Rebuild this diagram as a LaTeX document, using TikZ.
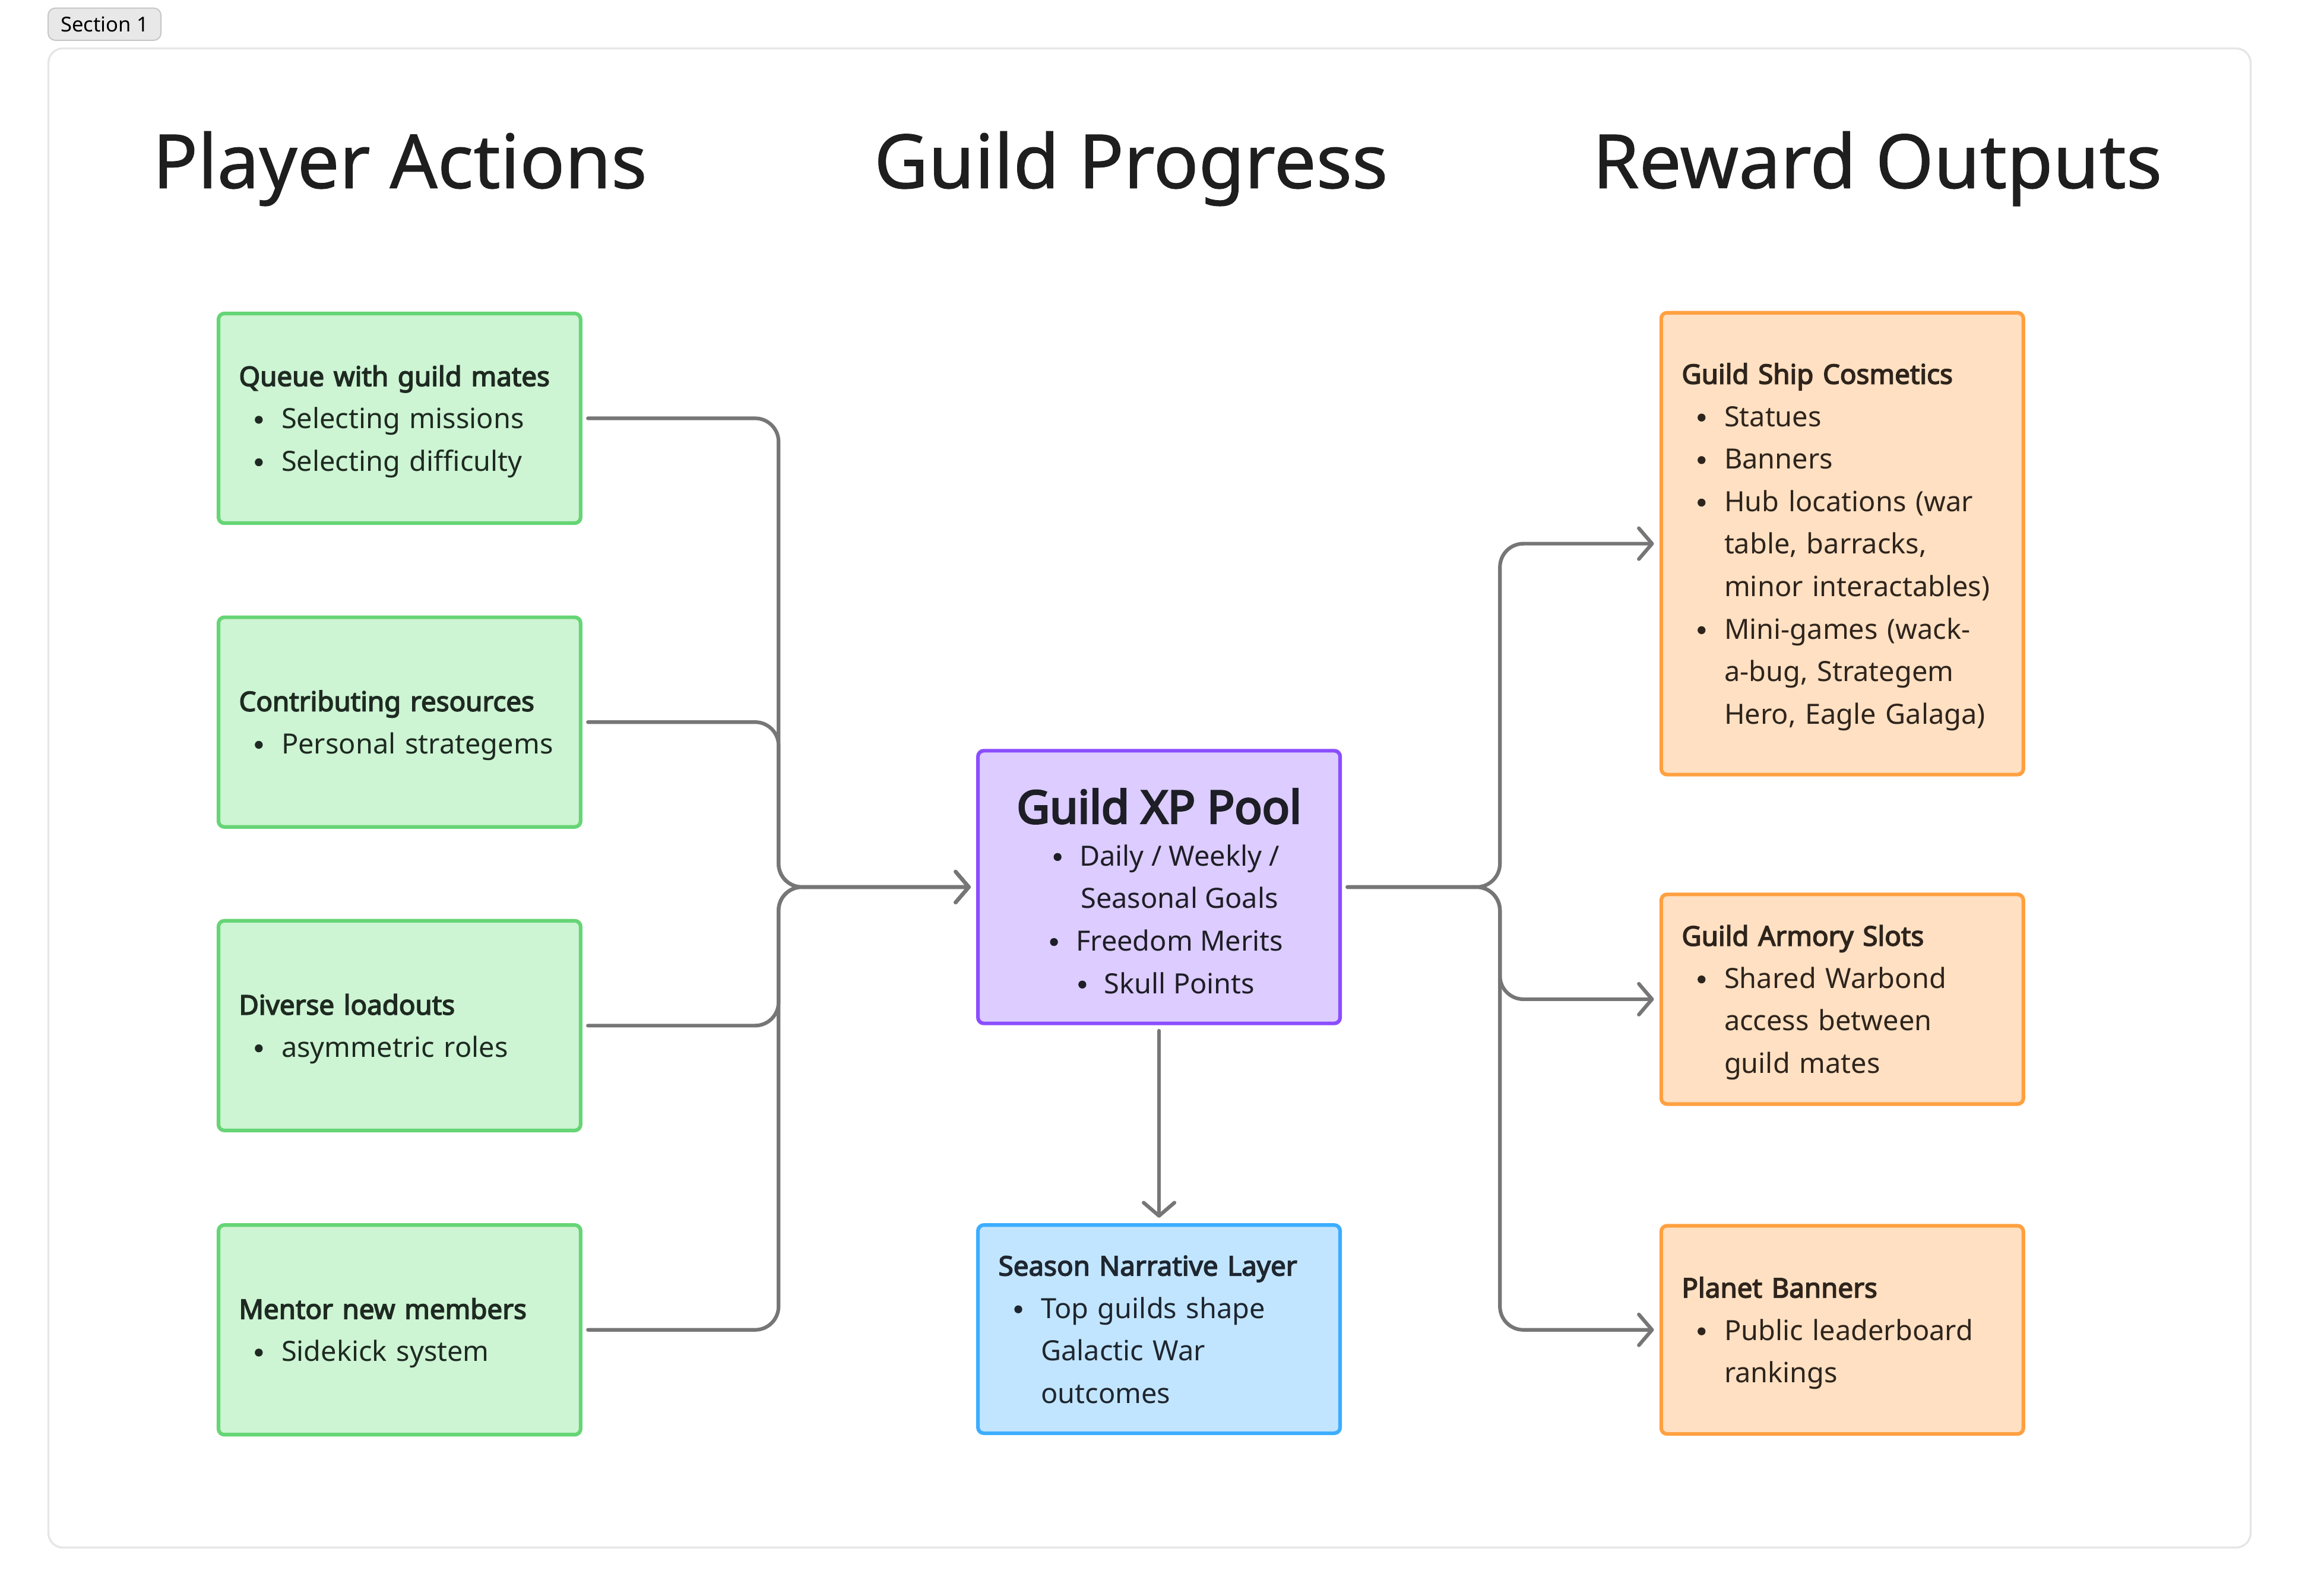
\documentclass[tikz,border=0pt]{standalone}
\usepackage{fontspec}
\setmainfont{Noto Sans}
\newfontfamily\boldface{Noto Sans}[FakeBold=3.4]
\newfontfamily\heavyface{Noto Sans}[FakeBold=4.2]
\newfontfamily\headface{Noto Sans}[FakeBold=0.8]
\usetikzlibrary{arrows.meta}
\definecolor{gfill}{HTML}{CDF4D3}
\definecolor{gline}{HTML}{66D575}
\definecolor{gtext}{HTML}{1E2A21}
\definecolor{pfill}{HTML}{DCCCFF}
\definecolor{pline}{HTML}{8B4DFF}
\definecolor{ptext}{HTML}{1E1E26}
\definecolor{bfill}{HTML}{C2E5FF}
\definecolor{bline}{HTML}{3DADFF}
\definecolor{btext}{HTML}{1E2630}
\definecolor{ofill}{HTML}{FFE0C2}
\definecolor{oline}{HTML}{FFA040}
\definecolor{otext}{HTML}{2E241C}
\definecolor{conncol}{HTML}{767676}
\definecolor{framecol}{HTML}{E6E6E6}
\definecolor{tagfill}{HTML}{E8E8E8}
\definecolor{tagline}{HTML}{C6C6C6}
\definecolor{headcol}{HTML}{1E1E1E}
\newcommand{\ftop}{\rule{0pt}{20pt}}
\newcommand{\fbot}{\rule[-6pt]{0pt}{6pt}}
\newcommand{\ttl}[1]{{\fontsize{18.5}{29}\selectfont\boldface #1}}
\newcommand{\bdot}{\tikz[baseline=0pt]\fill[x=1pt,y=1pt] (0,6) circle (2.7);}
\newcommand{\bitem}[1]{\makebox[29pt][l]{\hspace{10.8pt}\bdot}#1}
\newcommand{\bcont}[1]{\hspace*{29pt}#1}
\newcommand{\citem}[1]{\hspace*{28pt}\llap{\bdot\hspace{12.3pt}}#1}
\tikzset{
  card/.style={draw, line width=2.5pt, rounded corners=4pt, minimum width=247pt,
    inner xsep=14pt, inner ysep=0pt, text width=219pt, align=left,
    font=\fontsize{19}{29}\selectfont, outer sep=0pt},
  gcard/.style={card, fill=gfill, draw=gline, text=gtext},
  ocard/.style={card, fill=ofill, draw=oline, text=otext},
  bcard/.style={card, fill=bfill, draw=bline, text=btext},
  pcard/.style={draw, line width=2.5pt, rounded corners=4pt, minimum width=247pt,
    inner sep=0pt, align=center, font=\fontsize{19}{29}\selectfont, outer sep=0pt,
    fill=pfill, draw=pline, text=ptext},
  heading/.style={anchor=base, font=\fontsize{51}{60}\selectfont\headface, text=headcol, inner sep=0pt},
  conn/.style={draw=conncol, line width=2.5pt, rounded corners=16pt, line cap=round,
    -{Straight Barb[length=9pt,width=21pt,round]}},
}
\begin{document}
\begin{tikzpicture}[x=1pt,y=-1pt]
\useasboundingbox (0,0) rectangle (1568,1088.5);
% section frame and tag
\node[draw=framecol, line width=1.4pt, rounded corners=10pt, minimum width=1502pt,
  minimum height=1022.5pt, inner sep=0pt] (frame) at (784,544.25) {};
\node[draw=tagline, fill=tagfill, line width=0.8pt, rounded corners=5pt, minimum width=77pt,
  minimum height=22pt, inner sep=0pt, font=\fontsize{14}{16}\selectfont, text=black] (tag) at (71.3,16.5) {Section 1};
% headings
\node[heading] (h1) at (272.7,128.3) {Player Actions};
\node[heading] (h2) at (771.3,128.3) {Guild Progress};
\node[heading] (h3) at (1280.4,128.3) {Reward Outputs};
% player actions
\node[gcard, minimum height=143pt] (g1) at (272.5,285.3) {\ftop\ttl{Queue with guild mates}\\ \bitem{Selecting missions}\\ \bitem{Selecting difficulty}\fbot};
\node[gcard, minimum height=143pt] (g2) at (272.5,492.5) {\ftop\ttl{Contributing resources}\\ \bitem{Personal strategems}\fbot};
\node[gcard, minimum height=143pt] (g3) at (272.5,699.5) {\ftop\ttl{Diverse loadouts}\\ \bitem{asymmetric roles}\fbot};
\node[gcard, minimum height=143pt] (g4) at (272.5,907) {\ftop\ttl{Mentor new members}\\ \bitem{Sidekick system}\fbot};
% guild progress
\node[pcard, minimum height=186pt] (xp) at (790.5,605) {{\fontsize{31}{29}\selectfont\heavyface\rule{0pt}{35pt}Guild XP Pool}\\ \citem{Daily / Weekly /}\\ \hspace*{28pt}Seasonal Goals\\ \citem{Freedom Merits}\\ \citem{Skull Points}\fbot};
\node[bcard, minimum height=142pt] (sn) at (790.5,906.5) {\ftop\ttl{Season Narrative Layer}\\ \bitem{Top guilds shape}\\ \bcont{Galactic War}\\ \bcont{outcomes}\fbot};
% rewards
\node[ocard, minimum height=315pt] (o1) at (1256.5,370.8) {\ftop\ttl{Guild Ship Cosmetics}\\ \bitem{Statues}\\ \bitem{Banners}\\ \bitem{Hub locations (war}\\ \bcont{table, barracks,}\\ \bcont{minor interactables)}\\ \bitem{Mini-games (wack-}\\ \bcont{a-bug, Strategem}\\ \bcont{Hero, Eagle Galaga)}\fbot};
\node[ocard, minimum height=143pt] (o2) at (1256.5,681.5) {\ftop\ttl{Guild Armory Slots}\\ \bitem{Shared Warbond}\\ \bcont{access between}\\ \bcont{guild mates}\fbot};
\node[ocard, minimum height=142pt] (o3) at (1256.5,907) {\ftop\ttl{Planet Banners}\\ \bitem{Public leaderboard}\\ \bcont{rankings}\fbot};
% junctions
\coordinate (jl) at (531,605);
\coordinate (jr) at (1023,605);
% connectors
\draw[conn] ([xshift=5pt]g1.east) -| (jl) -- ([xshift=-5pt]xp.west);
\draw[conn] ([xshift=5pt]g2.east) -| (jl) -- ([xshift=-5pt]xp.west);
\draw[conn] ([xshift=5pt]g3.east) -| (jl) -- ([xshift=-5pt]xp.west);
\draw[conn] ([xshift=5pt]g4.east) -| (jl) -- ([xshift=-5pt]xp.west);
\draw[conn] ([xshift=5pt]xp.east) -- (jr) |- ([xshift=-5pt]o1.west);
\draw[conn] ([xshift=5pt]xp.east) -- (jr) |- ([xshift=-5pt]o2.west);
\draw[conn] ([xshift=5pt]xp.east) -- (jr) |- ([xshift=-5pt]o3.west);
\draw[conn] ([yshift=-5pt]xp.south) -- ([yshift=5pt]sn.north);
\end{tikzpicture}
\end{document}
